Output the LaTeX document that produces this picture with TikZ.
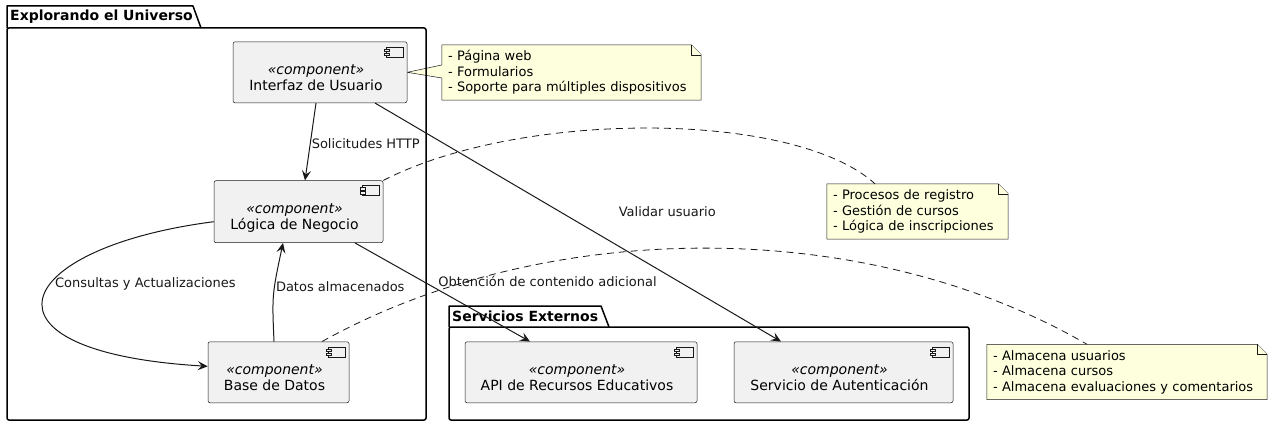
\documentclass[tikz,border=0pt]{standalone}
\usepackage{fontspec}
\setmainfont{DejaVu Sans}
\usetikzlibrary{arrows.meta,backgrounds}
\definecolor{compfill}{HTML}{F1F1F1}
\definecolor{notefill}{HTML}{FEFFDD}
\definecolor{umlline}{HTML}{181818}
\newcommand\comptext[1]{\raisebox{-7pt}[\height][\depth]{\begin{tabular}{@{}c@{}}\textit{«component»}\\#1\end{tabular}}\hspace*{8pt}}
\tikzset{
  comp/.style={draw=umlline, line width=0.5pt, fill=compfill, rounded corners=2pt,
    inner sep=0pt, font=\fontsize{14}{16}\selectfont,
    path picture={
      \draw[umlline, line width=0.5pt, sharp corners]
        ([xshift=-21pt,yshift=-5pt]path picture bounding box.north east) rectangle ++(17pt,-10pt);
      \draw[umlline, line width=0.5pt, sharp corners, fill=compfill]
        ([xshift=-23pt,yshift=-7pt]path picture bounding box.north east) rectangle ++(5pt,-2.5pt);
      \draw[umlline, line width=0.5pt, sharp corners, fill=compfill]
        ([xshift=-23pt,yshift=-11pt]path picture bounding box.north east) rectangle ++(5pt,-2.5pt);
    }},
  note/.style={font=\fontsize{13}{15.5}\selectfont, align=left, inner xsep=6pt,
    inner ysep=0pt, minimum height=55pt},
  notebox/.style={draw=umlline, line width=0.5pt, fill=notefill, line join=round},
  pkg/.style={draw=black, line width=1.5pt, line join=round},
  pkgtitle/.style={font=\bfseries\fontsize{14}{16}\selectfont, anchor=west, inner sep=0pt},
  flow/.style={umlline, line width=1pt, -{Stealth[length=10pt,width=9pt,inset=4pt]}},
  notelink/.style={draw=umlline, line width=0.8pt, dash pattern=on 7pt off 5pt},
  lbl/.style={font=\fontsize{13}{15.5}\selectfont, inner sep=1pt}
}
\begin{document}
\begin{tikzpicture}[x=1pt, y=-1pt]
\useasboundingbox (0,0) rectangle (1273,425);

% packages
\draw[pkg] (7,28) -- (7,6) -- (193,6) -- (201,28);
\draw[pkg, rounded corners=2pt] (7,28) rectangle (426,420);
\node[pkgtitle] (p1) at (10,17) {Explorando el Universo};
\draw[pkg] (449,327) -- (449,306) -- (601,306) -- (609,327);
\draw[pkg, rounded corners=2pt] (449,327) rectangle (969,420);
\node[pkgtitle] (p2) at (452,316.5) {Servicios Externos};

% components
\node[comp, minimum width=174pt, minimum height=61pt] (ui) at (320,72.3) {\comptext{Interfaz de Usuario}};
\node[comp, minimum width=169pt, minimum height=62pt] (logic) at (298.5,211.7) {\comptext{Lógica de Negocio}};
\node[comp, minimum width=141pt, minimum height=61pt] (db) at (278.5,372.3) {\comptext{Base de Datos}};
\node[comp, minimum width=232pt, minimum height=61pt] (api) at (581,372.3) {\comptext{API de Recursos Educativos}};
\node[comp, minimum width=219pt, minimum height=61pt] (auth) at (843.5,372.3) {\comptext{Servicio de Autenticación}};

% notes
\node[note, text width=247pt] (n1) at (571.5,72.5) {- Página web\\- Formularios\\- Soporte para múltiples dispositivos};
\node[note, text width=169pt] (n2) at (917.5,211.5) {- Procesos de registro\\- Gestión de cursos\\- Lógica de inscripciones};
\node[note, text width=268pt] (n3) at (1127,372) {- Almacena usuarios\\- Almacena cursos\\- Almacena evaluaciones y comentarios};

\begin{scope}[on background layer]
  \draw[notebox] (n1.north west) -- ([xshift=-10pt]n1.north east) -- ([yshift=-10pt]n1.north east)
    -- (n1.south east) -- (n1.south west) -- ([yshift=-5.5pt]n1.west) -- (ui.east)
    -- ([yshift=7.5pt]n1.west) -- cycle;
  \draw[notebox] ([xshift=-10pt]n1.north east) |- ([yshift=-10pt]n1.north east);
  \foreach \n in {n2,n3} {
    \draw[notebox] (\n.north west) -- ([xshift=-10pt]\n.north east) -- ([yshift=-10pt]\n.north east)
      -- (\n.south east) -- (\n.south west) -- cycle;
    \draw[notebox] ([xshift=-10pt]\n.north east) |- ([yshift=-10pt]\n.north east);
  }
\end{scope}

% connections
\path[flow] ([xshift=-4pt]ui.south) edge node[lbl, pos=0.52, anchor=west] {Solicitudes HTTP} ([xshift=6.5pt]logic.north);
\path[flow] ([xshift=55pt]ui.south) edge node[lbl, pos=0.454, anchor=west, xshift=58pt] {Validar usuario} ([xshift=-62.5pt]auth.north);
\draw[flow] ([yshift=-10pt]logic.west) .. controls (10,248) and (-35,352) .. ([yshift=6pt]db.west)
  node[lbl, pos=0.42, anchor=west, xshift=3pt] {Consultas y Actualizaciones};
\draw[flow] ([xshift=-4.5pt]db.north) .. controls (272,295) .. ([xshift=-15.5pt]logic.south)
  node[lbl, pos=0.6, anchor=west] {Datos almacenados};
\path[flow] ([xshift=56.5pt]logic.south) edge node[lbl, pos=0.388, anchor=west, xshift=14pt] {Obtención de contenido adicional} ([xshift=-51pt]api.north);

% note links
\draw[notelink] (logic.north east) .. controls (520,110) and (794,110) .. ([xshift=-42.5pt]n2.north);
\draw[notelink] ([xshift=43.5pt]db.north) .. controls (540,220) and (860,213) .. ([xshift=-40pt]n3.north);
\end{tikzpicture}
\end{document}
